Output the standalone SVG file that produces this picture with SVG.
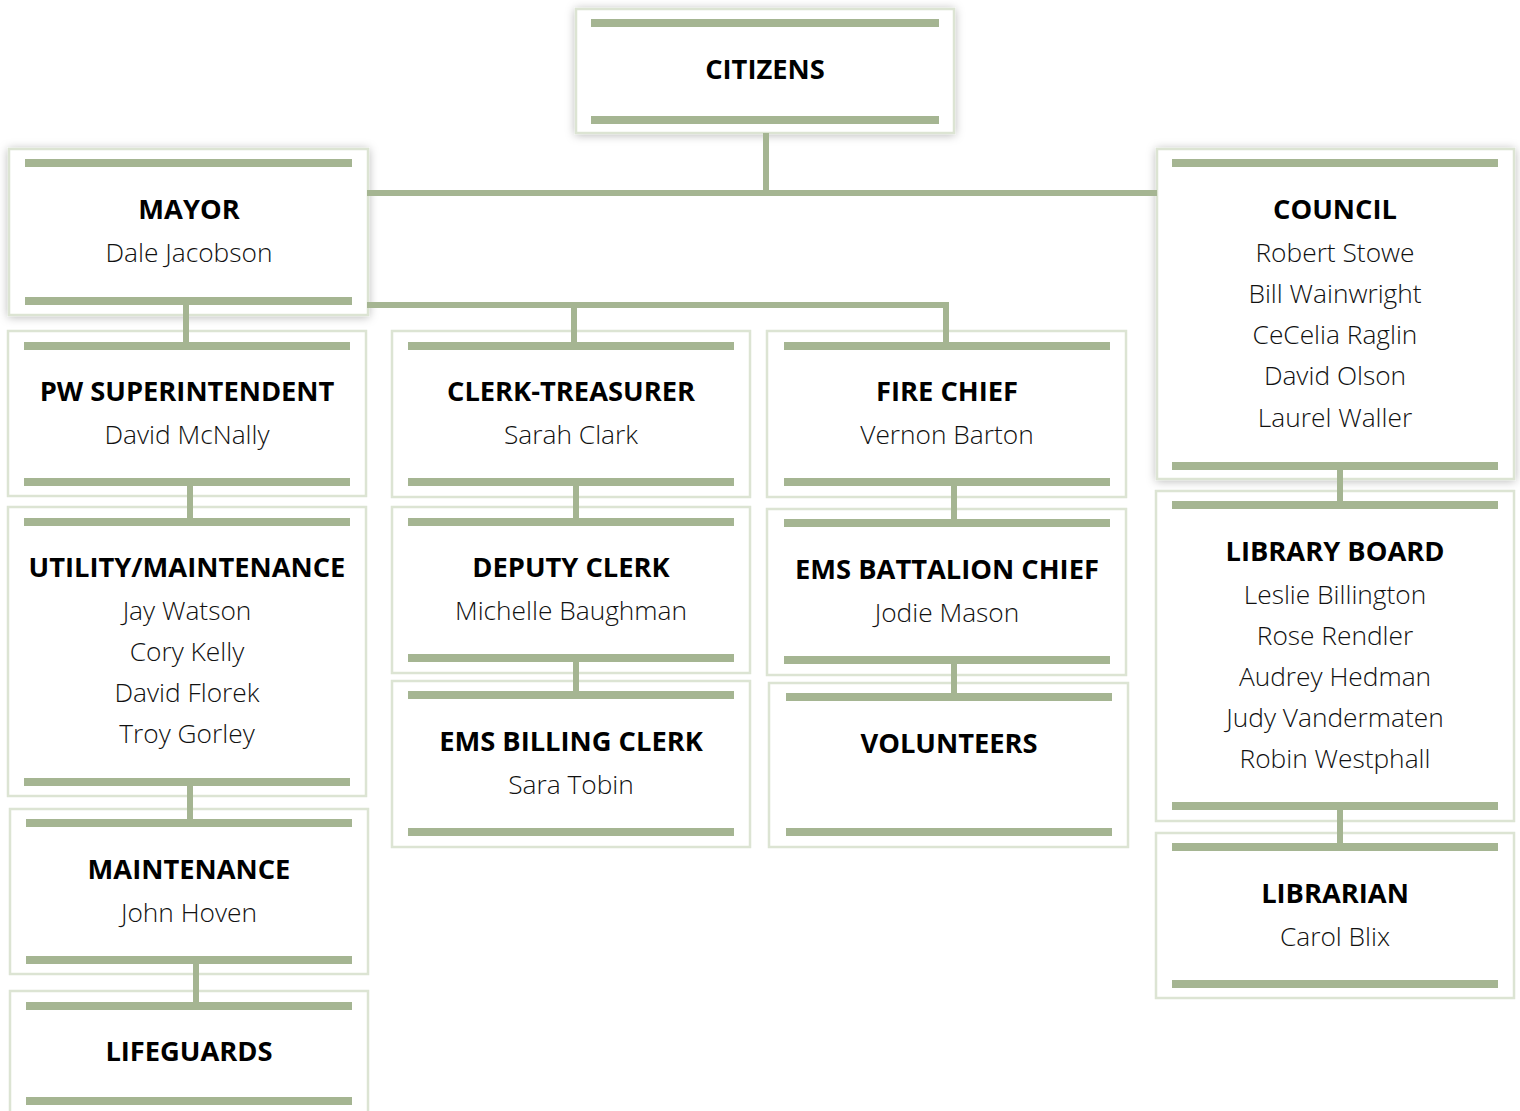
<svg xmlns="http://www.w3.org/2000/svg" width="1520" height="1111" viewBox="0 0 1520 1111">
<style>
.box{fill:#ffffff;stroke:#dce4d3;stroke-width:2.5}
.bar{fill:#a5b592}
.t{font-family:"Open Sans","Liberation Sans",sans-serif;font-weight:700;font-size:27.3px;fill:#000;text-anchor:middle}
.n{font-family:"Open Sans","Liberation Sans",sans-serif;font-weight:300;font-size:26.3px;fill:#111;text-anchor:middle}
.c{fill:none;stroke:#a5b592;stroke-width:6}
</style>
<defs>
<filter id="sh" x="-10%" y="-20%" width="120%" height="140%">
<feDropShadow dx="0" dy="1" stdDeviation="5" flood-color="#000" flood-opacity="0.28"/>
</filter>
</defs>
<rect width="1520" height="1111" fill="#ffffff"/>
<g id="citizens">
<rect class="box" x="576" y="9" width="378" height="124" filter="url(#sh)"/>
<rect class="bar" x="591" y="19" width="348" height="8"/>
<rect class="bar" x="591" y="116" width="348" height="8"/>
<text class="t" x="765" y="79">CITIZENS</text>
</g>
<g id="mayor">
<rect class="box" x="9" y="149" width="359" height="166" filter="url(#sh)"/>
<rect class="bar" x="25" y="159" width="327" height="8"/>
<rect class="bar" x="25" y="297" width="327" height="8"/>
<text class="t" x="189" y="219">MAYOR</text>
<text class="n" x="189" y="262">Dale Jacobson</text>
</g>
<g id="council">
<rect class="box" x="1157" y="149" width="357" height="330" filter="url(#sh)"/>
<rect class="bar" x="1172" y="159" width="326" height="8"/>
<rect class="bar" x="1172" y="462" width="326" height="8"/>
<text class="t" x="1335" y="219">COUNCIL</text>
<text class="n" x="1335" y="262">Robert Stowe</text>
<text class="n" x="1335" y="303">Bill Wainwright</text>
<text class="n" x="1335" y="344">CeCelia Raglin</text>
<text class="n" x="1335" y="385">David Olson</text>
<text class="n" x="1335" y="427">Laurel Waller</text>
</g>
<g id="pw-superintendent">
<rect class="box" x="8" y="331" width="358" height="165"/>
<rect class="bar" x="24" y="342" width="326" height="8"/>
<rect class="bar" x="24" y="478" width="326" height="8"/>
<text class="t" x="187" y="401">PW SUPERINTENDENT</text>
<text class="n" x="187" y="444">David McNally</text>
</g>
<g id="clerk-treasurer">
<rect class="box" x="392" y="331" width="358" height="166"/>
<rect class="bar" x="408" y="342" width="326" height="8"/>
<rect class="bar" x="408" y="478" width="326" height="8"/>
<text class="t" x="571" y="401">CLERK-TREASURER</text>
<text class="n" x="571" y="444">Sarah Clark</text>
</g>
<g id="fire-chief">
<rect class="box" x="767" y="331" width="359" height="166"/>
<rect class="bar" x="784" y="342" width="326" height="8"/>
<rect class="bar" x="784" y="478" width="326" height="8"/>
<text class="t" x="947" y="401">FIRE CHIEF</text>
<text class="n" x="947" y="444">Vernon Barton</text>
</g>
<g id="utility-maintenance">
<rect class="box" x="8" y="507" width="358" height="289"/>
<rect class="bar" x="24" y="518" width="326" height="8"/>
<rect class="bar" x="24" y="778" width="326" height="8"/>
<text class="t" x="187" y="577">UTILITY/MAINTENANCE</text>
<text class="n" x="187" y="620">Jay Watson</text>
<text class="n" x="187" y="661">Cory Kelly</text>
<text class="n" x="187" y="702">David Florek</text>
<text class="n" x="187" y="743">Troy Gorley</text>
</g>
<g id="deputy-clerk">
<rect class="box" x="392" y="507" width="358" height="166"/>
<rect class="bar" x="408" y="518" width="326" height="8"/>
<rect class="bar" x="408" y="654" width="326" height="8"/>
<text class="t" x="571" y="577">DEPUTY CLERK</text>
<text class="n" x="571" y="620">Michelle Baughman</text>
</g>
<g id="ems-battalion-chief">
<rect class="box" x="767" y="509" width="359" height="166"/>
<rect class="bar" x="784" y="519" width="326" height="8"/>
<rect class="bar" x="784" y="656" width="326" height="8"/>
<text class="t" x="947" y="579">EMS BATTALION CHIEF</text>
<text class="n" x="947" y="622">Jodie Mason</text>
</g>
<g id="library-board">
<rect class="box" x="1156" y="491" width="358" height="330"/>
<rect class="bar" x="1172" y="501" width="326" height="8"/>
<rect class="bar" x="1172" y="802" width="326" height="8"/>
<text class="t" x="1335" y="561">LIBRARY BOARD</text>
<text class="n" x="1335" y="604">Leslie Billington</text>
<text class="n" x="1335" y="645">Rose Rendler</text>
<text class="n" x="1335" y="686">Audrey Hedman</text>
<text class="n" x="1335" y="727">Judy Vandermaten</text>
<text class="n" x="1335" y="768">Robin Westphall</text>
</g>
<g id="maintenance">
<rect class="box" x="10" y="809" width="358" height="165"/>
<rect class="bar" x="26" y="819" width="326" height="8"/>
<rect class="bar" x="26" y="956" width="326" height="8"/>
<text class="t" x="189" y="879">MAINTENANCE</text>
<text class="n" x="189" y="922">John Hoven</text>
</g>
<g id="ems-billing-clerk">
<rect class="box" x="392" y="681" width="358" height="166"/>
<rect class="bar" x="408" y="691" width="326" height="8"/>
<rect class="bar" x="408" y="828" width="326" height="8"/>
<text class="t" x="571" y="751">EMS BILLING CLERK</text>
<text class="n" x="571" y="794">Sara Tobin</text>
</g>
<g id="volunteers">
<rect class="box" x="769" y="683" width="359" height="164"/>
<rect class="bar" x="786" y="693" width="326" height="8"/>
<rect class="bar" x="786" y="828" width="326" height="8"/>
<text class="t" x="949" y="753">VOLUNTEERS</text>
</g>
<g id="librarian">
<rect class="box" x="1156" y="833" width="358" height="165"/>
<rect class="bar" x="1172" y="843" width="326" height="8"/>
<rect class="bar" x="1172" y="980" width="326" height="8"/>
<text class="t" x="1335" y="903">LIBRARIAN</text>
<text class="n" x="1335" y="946">Carol Blix</text>
</g>
<g id="lifeguards">
<rect class="box" x="10" y="991" width="358" height="130"/>
<rect class="bar" x="26" y="1002" width="326" height="8"/>
<rect class="bar" x="26" y="1097" width="326" height="8"/>
<text class="t" x="189" y="1061">LIFEGUARDS</text>
</g>
<g id="connectors">
<path class="c" d="M766 133 V193"/>
<path class="c" d="M367 193 H1157"/>
<path class="c" d="M367 305 H946 V342"/>
<path class="c" d="M574 305 V342"/>
<path class="c" d="M186 305 V342"/>
<path class="c" d="M190 486 V518"/>
<path class="c" d="M190 786 V819"/>
<path class="c" d="M196 964 V1002"/>
<path class="c" d="M576 486 V518"/>
<path class="c" d="M576 662 V691"/>
<path class="c" d="M954 486 V519"/>
<path class="c" d="M954 664 V693"/>
<path class="c" d="M1340 470 V501"/>
<path class="c" d="M1340 810 V843"/>
</g>
</svg>
